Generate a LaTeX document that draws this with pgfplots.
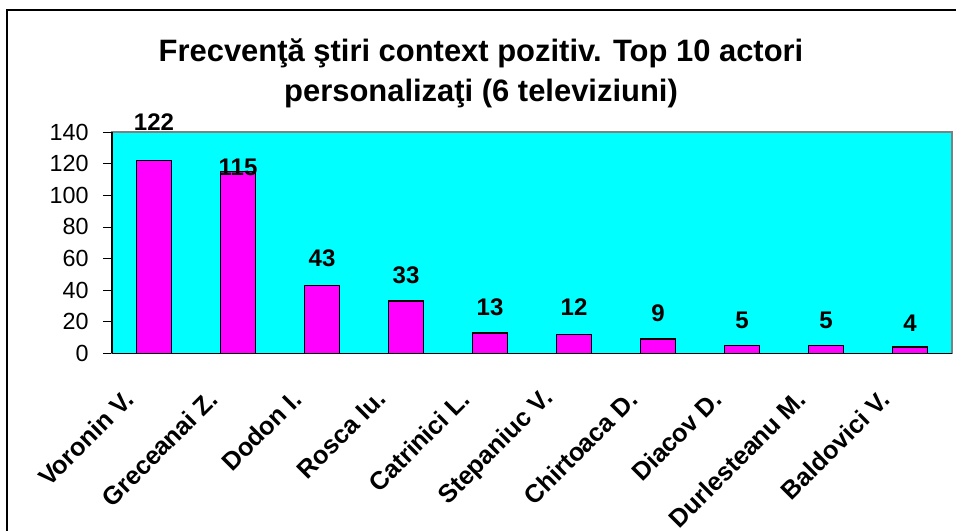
\documentclass[border=0pt]{standalone}
\usepackage{pgfplots}
\pgfplotsset{compat=1.18}
\usepackage{fontspec}
\setmainfont{Liberation Sans}
\definecolor{plotcyan}{RGB}{0,255,255}
\definecolor{barmag}{RGB}{255,0,255}
\begin{document}
\begin{tikzpicture}[x=0.75pt,y=0.75pt]
\useasboundingbox (0,0) rectangle (956,531);
\draw[line width=1.6pt] (7,-20) -- (7,521) -- (990,521);
\node[anchor=base,font=\fontsize{23.2pt}{26pt}\selectfont\bfseries] at (481,469) {Frecvenţă ştiri context pozitiv. Top 10 actori};
\node[anchor=base,font=\fontsize{23.2pt}{26pt}\selectfont\bfseries] at (481,429) {personalizaţi (6 televiziuni)};
\begin{axis}[
  at={(84pt,133.125pt)}, anchor=south west,
  scale only axis, width=630pt, height=166.1pt,
  xmin=-0.5, xmax=9.5, ymin=0, ymax=140,
  axis background/.style={fill=plotcyan},
  axis line style={draw=gray, line width=0.8pt},
  clip=false,
  ytick={0,20,...,140},
  xtick={0,...,9},
  xticklabels={Voronin V.,Greceanai Z.,Dodon I.,Rosca Iu.,Catrinici L.,Stepaniuc V.,Chirtoaca D.,Diacov D.,Durlesteanu M.,Baldovici V.},
  major x tick style={draw=none},
  extra x ticks={-0.5,0.5,...,9.5},
  extra x tick labels={},
  extra x tick style={major tick length=6pt, tick style={black, line width=0.6pt}},
  tick align=outside,
  major tick length=6.5pt,
  tick style={black, line width=0.6pt},
  ytick pos=left, xtick pos=bottom,
  /pgf/number format/assume math mode=true,
  yticklabel style={font=\fontsize{17.5pt}{20pt}\selectfont, xshift=-7.5pt},
  xticklabel style={font=\fontsize{19pt}{22pt}\selectfont\bfseries, xshift=-16pt, yshift=-22pt, rotate=45, anchor=east},
  every node near coord/.append style={font=\fontsize{18pt}{20pt}\selectfont\bfseries, anchor=center},
]
\addplot[ybar, bar width=0.42, fill=barmag, draw=black, line width=1.2pt] coordinates {
(0,122) (1,115) (2,43) (3,33) (4,13) (5,12) (6,9) (7,5) (8,5) (9,4)};
\addplot[draw=none, mark=none, nodes near coords, point meta=explicit symbolic,
  nodes near coords align=center] table[meta=lab] {
x y lab
0 146.3 122
1 117.8 115
2 59.9 43
3 49.4 33
4 29.3 13
5 29.3 12
6 25.3 9
7 21.2 5
8 21.2 5
9 19.3 4
};
\draw[black, line width=0.8pt] (rel axis cs:0,0) -- (rel axis cs:0,1);
\draw[black, line width=0.8pt] (rel axis cs:0,0) -- (rel axis cs:1,0);
\end{axis}
\end{tikzpicture}
\end{document}
